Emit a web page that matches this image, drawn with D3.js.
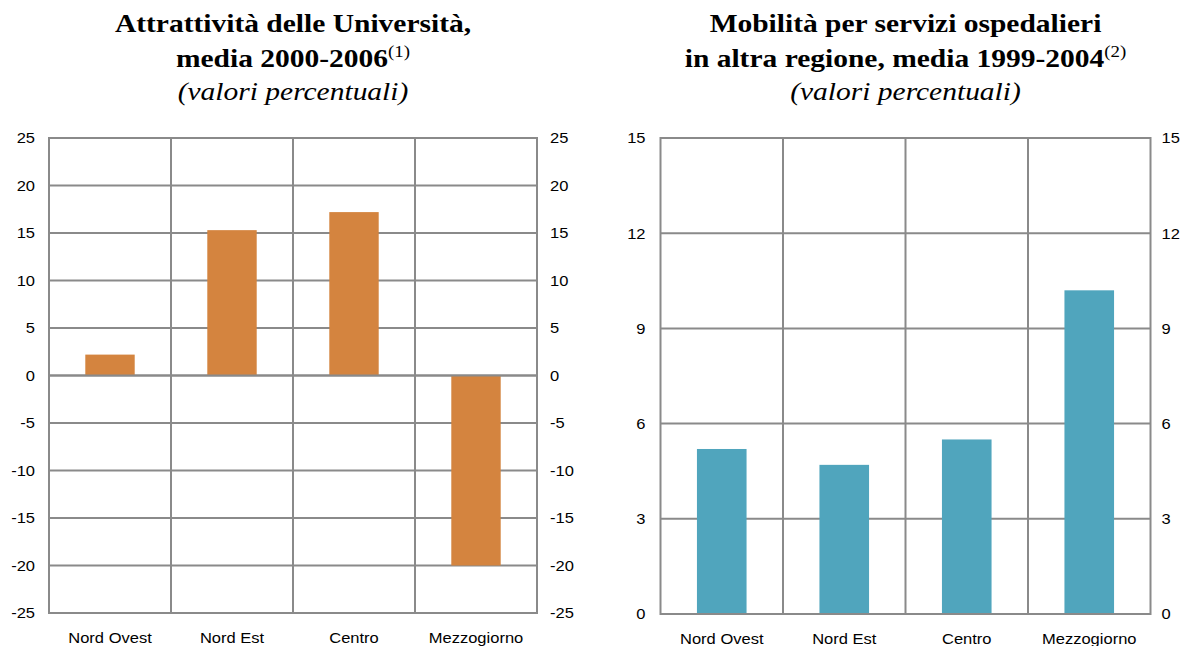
<!DOCTYPE html>
<html>
<head>
<meta charset="utf-8">
<script src="https://cdn.jsdelivr.net/npm/d3@7"></script>
<style>
  html, body { margin: 0; padding: 0; background: #fff; }
  svg { display: block; }
</style>
</head>
<body>
<svg id="chart" width="1183" height="646"></svg>
<script>
// ---- data ----
const categories = ["Nord Ovest", "Nord Est", "Centro", "Mezzogiorno"];
const universityValues = [2.2, 15.3, 17.2, -20.0];
const hospitalValues = [5.2, 4.7, 5.5, 10.2];
const universityTicks = [-25, -20, -15, -10, -5, 0, 5, 10, 15, 20, 25];
const hospitalTicks = [0, 3, 6, 9, 12, 15];
const universityTitle = ["Attrattività delle Università,", "media 2000-2006", "(1)", "(valori percentuali)"];
const hospitalTitle = ["Mobilità per servizi ospedalieri", "in altra regione, media 1999-2004", "(2)", "(valori percentuali)"];

const S = 1.18; // horizontal stretch of the original artwork's text
const svg = d3.select("#chart");
const GRID = "#8a8a8a";

function panel(cfg) {
  const g = svg.append("g");
  const x = d3.scaleBand().domain(categories).range([cfg.x0, cfg.x1]).padding(0);
  const y = d3.scaleLinear().domain(cfg.domain).range([cfg.yBottom, cfg.yTop]);
  const cx = (cfg.x0 + cfg.x1) / 2;

  // titles
  const t1 = g.append("g").attr("transform", `translate(${cx},32) scale(${S},1)`);
  t1.append("text").attr("text-anchor", "middle")
    .style("font-family", "'Liberation Serif','Times New Roman',serif")
    .style("font-weight", "bold").style("font-size", "25px").attr("fill", "#000")
    .text(cfg.title[0]);
  const t2 = g.append("g").attr("transform", `translate(${cx},67) scale(${S},1)`);
  const tt2 = t2.append("text").attr("text-anchor", "middle")
    .style("font-family", "'Liberation Serif','Times New Roman',serif")
    .attr("fill", "#000");
  tt2.append("tspan").style("font-weight", "bold").style("font-size", "25px").text(cfg.title[1]);
  tt2.append("tspan").style("font-weight", "normal").style("font-size", "16px")
    .attr("dy", -10).text(cfg.title[2]);
  const t3 = g.append("g").attr("transform", `translate(${cx},100) scale(${S},1)`);
  t3.append("text").attr("text-anchor", "middle")
    .style("font-family", "'Liberation Serif','Times New Roman',serif")
    .style("font-style", "italic").style("font-size", "25px").attr("fill", "#000")
    .text(cfg.title[3]);

  // grid
  const grid = g.append("g");
  grid.selectAll("line.h").data(cfg.ticks).join("line")
    .attr("x1", cfg.x0).attr("x2", cfg.x1)
    .attr("y1", d => y(d)).attr("y2", d => y(d))
    .attr("stroke", GRID).attr("stroke-width", 2);
  grid.selectAll("line.v").data(categories.slice(1)).join("line")
    .attr("x1", d => x(d)).attr("x2", d => x(d))
    .attr("y1", cfg.yTop).attr("y2", cfg.yBottom)
    .attr("stroke", GRID).attr("stroke-width", 2);

  // bars
  const bw = x.bandwidth() * 0.405;
  g.append("g").selectAll("rect").data(cfg.values).join("rect")
    .attr("x", (d, i) => x(categories[i]) + (x.bandwidth() - bw) / 2)
    .attr("width", bw)
    .attr("y", d => Math.min(y(d), y(0)))
    .attr("height", d => Math.abs(y(d) - y(0)))
    .attr("fill", cfg.color);

  // zero line and frame on top
  g.append("line").attr("x1", cfg.x0).attr("x2", cfg.x1)
    .attr("y1", y(0)).attr("y2", y(0))
    .attr("stroke", GRID).attr("stroke-width", 2);
  g.append("rect").attr("x", cfg.x0).attr("y", cfg.yTop)
    .attr("width", cfg.x1 - cfg.x0).attr("height", cfg.yBottom - cfg.yTop)
    .attr("fill", "none").attr("stroke", GRID).attr("stroke-width", 2);

  // axes
  const fmt = d => String(d);
  const styleTicks = (sel, dx, anchor) => {
    sel.select(".domain").remove();
    sel.selectAll(".tick line").remove();
    sel.selectAll(".tick text")
      .attr("x", 0).attr("dy", "0.35em")
      .attr("transform", `translate(${dx},0) scale(${S},1)`)
      .attr("text-anchor", anchor)
      .attr("fill", "#000")
      .style("font-family", "'Liberation Sans',Arial,sans-serif")
      .style("font-size", "14px");
  };
  g.append("g").attr("transform", `translate(${cfg.x0},0)`)
    .call(d3.axisLeft(y).tickValues(cfg.ticks).tickFormat(fmt))
    .call(s => styleTicks(s, cfg.leftPad, "end"));
  g.append("g").attr("transform", `translate(${cfg.x1},0)`)
    .call(d3.axisRight(y).tickValues(cfg.ticks).tickFormat(fmt))
    .call(s => styleTicks(s, cfg.rightPad, "start"));
  const xa = g.append("g").attr("transform", `translate(0,${cfg.yBottom})`)
    .call(d3.axisBottom(x).tickSizeOuter(0));
  xa.select(".domain").remove();
  xa.selectAll(".tick line").remove();
  xa.selectAll(".tick text")
    .attr("y", 0).attr("dy", 0)
    .attr("transform", `translate(0,30) scale(${S},1)`)
    .attr("text-anchor", "middle").attr("fill", "#000")
    .style("font-family", "'Liberation Sans',Arial,sans-serif")
    .style("font-size", "14px");
}

panel({
  x0: 49, x1: 537, yTop: 138, yBottom: 613,
  domain: [-25, 25], ticks: universityTicks, values: universityValues,
  color: "#d4843f", title: universityTitle, leftPad: -14, rightPad: 13
});
panel({
  x0: 660.5, x1: 1150.5, yTop: 138, yBottom: 614,
  domain: [0, 15], ticks: hospitalTicks, values: hospitalValues,
  color: "#50a5bd", title: hospitalTitle, leftPad: -15, rightPad: 11
});
</script>
</body>
</html>
